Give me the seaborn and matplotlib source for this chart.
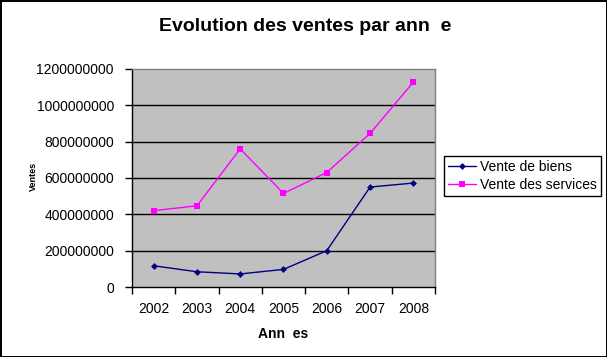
import matplotlib
matplotlib.use("Agg")
import matplotlib.pyplot as plt
import seaborn as sns
import pandas as pd
import numpy as np

# Data
annees = ["2002", "2003", "2004", "2005", "2006", "2007", "2008"]
vente_biens = [117e6, 84e6, 72e6, 97e6, 200e6, 550e6, 572e6]
vente_services = [420e6, 447e6, 760e6, 515e6, 630e6, 845e6, 1127e6]
series = ["Vente de biens", "Vente des services"]
yticks = [0, 200e6, 400e6, 600e6, 800e6, 1000e6, 1200e6]

sns.set_style("white")
plt.rcParams["font.family"] = ["Liberation Sans", "DejaVu Sans"]
plt.rcParams["text.color"] = "black"
plt.rcParams["xtick.color"] = "black"
plt.rcParams["ytick.color"] = "black"
plt.rcParams["axes.labelcolor"] = "black"

pos = np.arange(len(annees))
df = pd.DataFrame({
    "pos": np.concatenate([pos, pos]),
    "Ventes": vente_biens + vente_services,
    "Serie": [series[0]] * len(annees) + [series[1]] * len(annees),
})

fig = plt.figure(figsize=(6.07, 3.57), dpi=100, facecolor="white",
                 edgecolor="black", linewidth=2)
ax = fig.add_axes([0.2175, 0.196, 0.4991, 0.611])
ax.set_facecolor("#C0C0C0")

sns.lineplot(data=df, x="pos", y="Ventes", hue="Serie", style="Serie",
             palette={series[0]: "#000080", series[1]: "#FF00FF"},
             markers={series[0]: "D", series[1]: "s"}, dashes=False,
             linewidth=1, markeredgewidth=0, ax=ax, zorder=3)

for line in ax.lines:
    line.set_markersize(3.5 if line.get_marker() == "D" else 4.8)

ax.set_xlim(-0.5, len(annees) - 0.5)
ax.set_ylim(0, 1200e6)
ax.set_yticks(yticks)
ax.set_yticklabels([str(int(v)) for v in yticks], fontsize=10)
for v in yticks[1:-1]:
    ax.axhline(v, color="black", linewidth=1, zorder=1)

# category boundaries as major ticks, labels on minor ticks
ax.set_xticks(np.arange(-0.5, len(annees), 1.0))
ax.set_xticklabels([])
ax.set_xticks(pos, minor=True)
ax.set_xticklabels(annees, minor=True, fontsize=10)
ax.tick_params(axis="x", which="major", direction="out", length=5,
               width=1, color="black", bottom=True)
ax.tick_params(axis="x", which="minor", length=0, pad=11)
ax.tick_params(axis="y", direction="out", length=5, width=1,
               color="black", left=True, pad=8)

for side in ["top", "right"]:
    ax.spines[side].set_color("#808080")
    ax.spines[side].set_linewidth(1)
for side in ["left", "bottom"]:
    ax.spines[side].set_color("black")
    ax.spines[side].set_linewidth(1)

ax.set_xlabel("Ann  es", fontsize=10, fontweight="bold", labelpad=8)
ax.set_ylabel("")
fig.text(0.055, 0.505, "Ventes", rotation=90, fontsize=6.5,
         fontweight="bold", ha="center", va="center")
fig.text(0.502, 0.925, "Evolution des ventes par ann  e", fontsize=14,
         fontweight="bold", ha="center", va="center")

leg = ax.legend(loc="center left", bbox_to_anchor=(1.03, 0.51),
                fontsize=10, frameon=True, fancybox=False,
                edgecolor="black", framealpha=1, borderpad=0.3,
                handlelength=2.0, handletextpad=0.3, labelspacing=0.3,
                borderaxespad=0)
leg.get_frame().set_linewidth(1)
for h in leg.legend_handles:
    h.set_markersize(3.5 if h.get_marker() == "D" else 4.8)

fig.savefig("out.png", dpi=100)
